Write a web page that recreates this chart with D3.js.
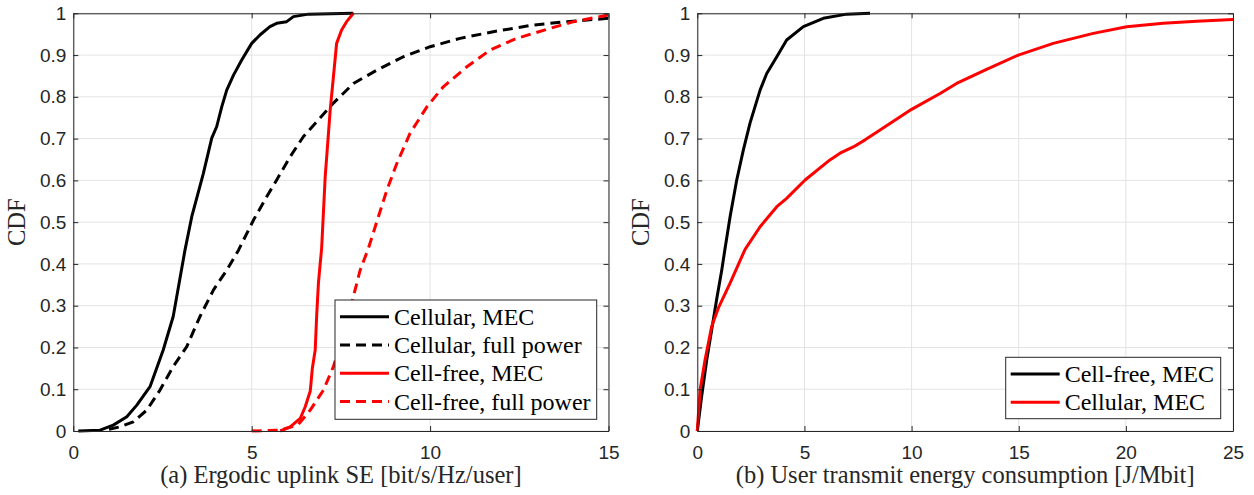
<html>
<head>
<meta charset="utf-8">
<script src="https://d3js.org/d3.v7.min.js"></script>
<style>
  body { margin: 0; background: #fff; }
  svg { font-family: "Liberation Sans", Arial, sans-serif; }
  .tick text { font-size: 19px; fill: #262626; }
  .lbl { font-family: "Liberation Serif", serif; font-size: 24.5px; fill: #262626; }
  .leg { font-family: "Liberation Serif", serif; font-size: 24px; fill: #000; }
</style>
</head>
<body>
<div id="chart"></div>
<script>
// (a) ergodic uplink SE, CDF points [x, F(x)]
var cellularMec = [[0.14,0],[0.75,0.002],[1.12,0.014],[1.5,0.034],[1.78,0.062],[2.15,0.106],[2.52,0.194],[2.8,0.274],[3.13,0.433],[3.32,0.513],[3.64,0.615],[3.88,0.701],[4.02,0.729],[4.16,0.776],[4.3,0.816],[4.49,0.852],[4.72,0.888],[5.0,0.928],[5.23,0.948],[5.51,0.968],[5.7,0.976],[5.98,0.98],[6.17,0.992],[6.59,0.998],[7.85,1]];
var cellularFull = [[1.0,0.004],[1.31,0.01],[1.68,0.022],[2.06,0.05],[2.43,0.098],[2.8,0.154],[3.18,0.202],[3.55,0.274],[3.93,0.338],[4.3,0.385],[4.63,0.433],[5.05,0.505],[5.42,0.561],[5.7,0.601],[6.08,0.657],[6.45,0.705],[6.87,0.745],[7.29,0.785],[7.85,0.832],[8.51,0.864],[9.25,0.896],[10.0,0.92],[10.84,0.94],[11.77,0.956],[12.9,0.972],[13.83,0.98],[15,0.988]];
var cellFreeMec = [[5.8,0],[6.08,0.01],[6.36,0.03],[6.5,0.058],[6.64,0.095],[6.7,0.15],[6.78,0.194],[6.82,0.274],[6.87,0.354],[6.92,0.401],[6.96,0.437],[7.06,0.609],[7.2,0.768],[7.29,0.848],[7.38,0.928],[7.52,0.96],[7.66,0.98],[7.85,1]];
var cellFreeFull = [[5.0,0],[5.8,0.002],[6.3,0.015],[6.64,0.05],[7.01,0.098],[7.29,0.154],[7.57,0.234],[7.85,0.322],[8.04,0.385],[8.27,0.437],[8.55,0.513],[8.79,0.577],[9.07,0.641],[9.44,0.713],[9.91,0.776],[10.37,0.824],[11.03,0.872],[11.68,0.912],[12.43,0.94],[13.36,0.964],[14.02,0.98],[15,0.996]];

// (b) user transmit energy consumption
var cellFreeEnergy = [[0,0],[0.2,0.082],[0.44,0.17],[0.67,0.242],[0.9,0.314],[1.14,0.385],[1.29,0.435],[1.53,0.513],[1.84,0.601],[2.15,0.673],[2.46,0.737],[2.93,0.816],[3.24,0.856],[3.71,0.896],[4.17,0.936],[4.95,0.968],[5.88,0.988],[6.97,0.998],[8.06,1]];
var cellularEnergy = [[0,0],[0.13,0.098],[0.36,0.17],[0.67,0.25],[0.98,0.294],[1.53,0.354],[2.23,0.435],[2.93,0.489],[3.71,0.537],[4.17,0.557],[5.03,0.601],[6.19,0.649],[6.66,0.665],[7.28,0.68],[7.83,0.697],[8.37,0.715],[10.0,0.77],[11.33,0.808],[12.1,0.832],[13.5,0.866],[14.98,0.9],[16.61,0.928],[18.48,0.952],[20.04,0.968],[21.74,0.976],[23.3,0.981],[25,0.985]];

var yTicks = [0,0.1,0.2,0.3,0.4,0.5,0.6,0.7,0.8,0.9,1];
var xTicksA = [0,5,10,15];
var xTicksB = [0,5,10,15,20,25];
var legendA = ["Cellular, MEC","Cellular, full power","Cell-free, MEC","Cell-free, full power"];
var legendB = ["Cell-free, MEC","Cellular, MEC"];
var xLabelA = "(a) Ergodic uplink SE [bit/s/Hz/user]";
var xLabelB = "(b) User transmit energy consumption [J/Mbit]";

var svg = d3.select("#chart").append("svg")
    .attr("width", 1254)
    .attr("height", 495);

var plotTop = 13.3, plotBottom = 431, axisColor = "#262626";

function panel(left, right, xMax, xTicks, series, legend, xLabel, leg) {
    var x = d3.scaleLinear().domain([0, xMax]).range([left, right]);
    var y = d3.scaleLinear().domain([0, 1]).range([plotBottom, plotTop]);
    var g = svg.append("g");

    // grid
    g.selectAll(".gx").data(xTicks).enter().append("line")
        .attr("x1", d => x(d)).attr("x2", d => x(d))
        .attr("y1", plotTop).attr("y2", plotBottom)
        .attr("stroke", "#e3e3e3").attr("stroke-width", 1);
    g.selectAll(".gy").data(yTicks).enter().append("line")
        .attr("x1", left).attr("x2", right)
        .attr("y1", d => y(d)).attr("y2", d => y(d))
        .attr("stroke", "#e3e3e3").attr("stroke-width", 1);

    var line = d3.line().x(d => x(d[0])).y(d => y(d[1]));
    series.forEach(function(s) {
        g.append("path")
            .attr("d", line(s.data))
            .attr("fill", "none")
            .attr("stroke", s.color)
            .attr("stroke-width", 3)
            .attr("stroke-linejoin", "round")
            .attr("stroke-dasharray", s.dash ? "10,6" : null);
    });

    // axes, ticks pointing inward
    var fmt = d3.format("~g");
    g.append("g").attr("transform", `translate(0,${plotBottom})`)
        .call(d3.axisBottom(x).tickValues(xTicks).tickSizeInner(-5).tickSizeOuter(0).tickPadding(15).tickFormat(fmt));
    g.append("g").attr("transform", `translate(${left},0)`)
        .call(d3.axisLeft(y).tickValues(yTicks).tickSizeInner(-5).tickSizeOuter(0).tickPadding(7).tickFormat(fmt));
    g.append("g").attr("transform", `translate(0,${plotTop})`)
        .call(d3.axisTop(x).tickValues(xTicks).tickSizeInner(-5).tickSizeOuter(0).tickFormat(""));
    g.append("g").attr("transform", `translate(${right},0)`)
        .call(d3.axisRight(y).tickValues(yTicks).tickSizeInner(-5).tickSizeOuter(0).tickFormat(""));
    g.selectAll(".domain, .tick line").attr("stroke", axisColor);
    g.selectAll(".tick text").attr("fill", axisColor);

    g.append("text").attr("class", "lbl")
        .attr("x", (left + right) / 2).attr("y", 483)
        .attr("text-anchor", "middle")
        .text(xLabel);
    g.append("text").attr("class", "lbl")
        .attr("transform", `translate(${left - 48},${(plotTop + plotBottom) / 2}) rotate(-90)`)
        .attr("text-anchor", "middle")
        .text("CDF");

    // legend
    g.append("rect")
        .attr("x", leg.x).attr("y", leg.y).attr("width", leg.w).attr("height", leg.h)
        .attr("fill", "#fff").attr("stroke", axisColor).attr("stroke-width", 1);
    legend.forEach(function(name, i) {
        var ly = leg.y + 16.7 + i * 28.3;
        g.append("line")
            .attr("x1", leg.x + 5).attr("x2", leg.x + 54)
            .attr("y1", ly).attr("y2", ly)
            .attr("stroke", series[i].color).attr("stroke-width", 3)
            .attr("stroke-dasharray", series[i].dash ? "10,6" : null);
        g.append("text").attr("class", "leg")
            .attr("x", leg.x + 59).attr("y", ly + 8)
            .text(name);
    });
}

panel(73.3, 608.5, 15, xTicksA, [
    {data: cellularMec, color: "#000", dash: false},
    {data: cellularFull, color: "#000", dash: true},
    {data: cellFreeMec, color: "#f00", dash: false},
    {data: cellFreeFull, color: "#f00", dash: true}
], legendA, xLabelA, {x: 335, y: 300, w: 261.7, h: 119.3});

panel(697.3, 1233, 25, xTicksB, [
    {data: cellFreeEnergy, color: "#000", dash: false},
    {data: cellularEnergy, color: "#f00", dash: false}
], legendB, xLabelB, {x: 1005.7, y: 357.3, w: 215, h: 61.4});
</script>
</body>
</html>
